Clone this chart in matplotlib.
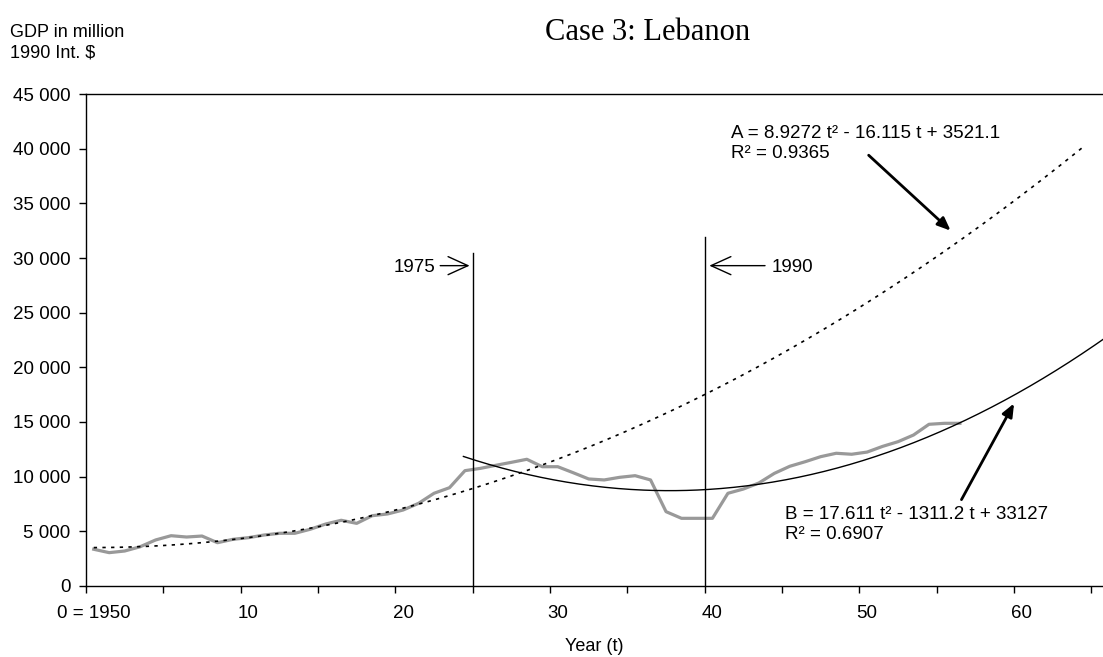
import numpy as np
import matplotlib
matplotlib.use("Agg")
from matplotlib import pyplot as plt
from matplotlib.ticker import FuncFormatter

# GDP of Lebanon, million 1990 Int. $, 1950-2006
years = np.arange(1950, 2007)
gdp = [3360, 3050, 3200, 3590, 4210, 4600, 4480, 4570, 3960, 4270,
       4420, 4660, 4820, 4820, 5190, 5670, 6010, 5730, 6430, 6590,
       6950, 7560, 8480, 8990, 10550, 10760, 11040, 11310, 11590, 10910,
       10910, 10360, 9790, 9700, 9940, 10090, 9700, 6800, 6190, 6190,
       6190, 8480, 8870, 9420, 10300, 10950, 11370, 11830, 12140, 12050,
       12250, 12770, 13200, 13810, 14790, 14880, 14880]

# trendline coefficients as printed on the chart
coef_a = [8.9272, -16.115, 3521.1]
coef_b = [17.611, -1311.2, 33127]
r2_a = 0.9365
r2_b = 0.6907

# break years and the height of their marker lines
events = [1975, 1990]
event_tops = [30500, 31900]

x_labels = ["0 = 1950", "10", "20", "30", "40", "50", "60"]

plt.rcParams['font.family'] = ['Liberation Sans', 'DejaVu Sans']

W, H = 1103, 657
fig = plt.figure(figsize=(W / 100, H / 100), dpi=100)
ax = fig.add_axes([86 / W, 71 / H, 1017 / W, 492 / H])

# categories sit between the ticks (excel style)
pos = years - 1950 + 0.5
ax.plot(pos, gdp, color='#999999', lw=2.3, solid_joinstyle='round', zorder=3)

# trend A (whole period), trend B (after 1975)
ta = np.linspace(1, 65, 300)
ax.plot(ta - 0.5, np.polyval(coef_a, ta), color='black', lw=1.2,
        linestyle=(0, (2, 3.2)), zorder=4)
tb = np.linspace(23.9, 65.4, 300)
ax.plot(tb + 0.5, np.polyval(coef_b, tb), color='black', lw=1.0, zorder=4)

for yr, top in zip(events, event_tops):
    ax.plot([yr - 1950, yr - 1950], [0, top], color='black', lw=1.0, zorder=5)

open_arrow = dict(arrowstyle='->,head_length=1.1,head_width=0.5', color='black',
                  lw=1.0, shrinkA=0, shrinkB=0)
ax.annotate('', xy=(24.8, 29300), xytext=(22.9, 29300), arrowprops=open_arrow, fontsize=13)
ax.text(22.6, 29100, '1975', fontsize=13.5, ha='right', va='center')
ax.annotate('', xy=(40.3, 29300), xytext=(43.9, 29300), arrowprops=open_arrow, fontsize=13)
ax.text(44.3, 29100, '1990', fontsize=13.5, ha='left', va='center')

ax.text(41.7, 40500, "A = %.4f t² - %.3f t + %.1f\nR² = %.4f" % (coef_a[0], -coef_a[1], coef_a[2], r2_a),
        fontsize=13.5, ha='left', va='center', linespacing=1.25)
ax.text(45.2, 5600, "B = %.3f t² - %.1f t + %d\nR² = %.4f" % (coef_b[0], -coef_b[1], coef_b[2], r2_b),
        fontsize=13.5, ha='left', va='center', linespacing=1.25)

fill_arrow = dict(arrowstyle='-|>,head_length=0.6,head_width=0.25', color='black',
                  lw=2.0, shrinkA=0, shrinkB=0)
ax.annotate('', xy=(55.9, 32500), xytext=(50.6, 39400), arrowprops=fill_arrow, fontsize=13)
ax.annotate('', xy=(60.0, 16700), xytext=(56.6, 7900), arrowprops=fill_arrow, fontsize=13)

ax.set_xlim(0, 65.75)
ax.set_ylim(0, 45000)
ax.set_yticks(np.arange(0, 45001, 5000))
ax.yaxis.set_major_formatter(FuncFormatter(lambda v, p: ("{:,.0f}".format(v)).replace(",", " ")))
ax.set_xticks(np.arange(0, 66, 5))
ax.set_xticklabels([])
ax.set_xticks(np.arange(0, 61, 10) + 0.5, minor=True)
ax.set_xticklabels(x_labels, minor=True)
ax.tick_params(axis='x', which='major', direction='out', length=5, width=1)
ax.tick_params(axis='x', which='minor', length=0, pad=14, labelsize=13.5)
ax.tick_params(axis='y', direction='out', length=5, width=1, pad=6, labelsize=13.5)

ax.spines['right'].set_visible(False)
for s in ['left', 'bottom', 'top']:
    ax.spines[s].set_linewidth(1.0)
ax.set_xlabel('Year (t)', fontsize=13, labelpad=11)

fig.text(648 / W, 1 - 32 / H, 'Case 3: Lebanon', family=['Liberation Serif', 'DejaVu Serif'],
         fontsize=22, ha='center', va='center')
fig.text(10 / W, 1 - 24 / H, 'GDP in million\n1990 Int. $', fontsize=13, ha='left', va='top',
         linespacing=1.3)

fig.savefig('out.png', dpi=100)
